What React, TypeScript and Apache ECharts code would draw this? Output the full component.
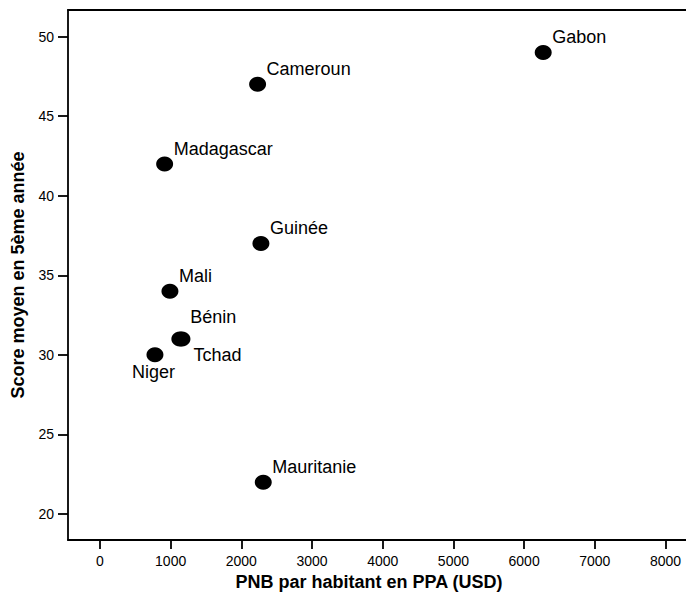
import React, { useEffect, useRef } from "react";
import * as echarts from "echarts";

const countries = ["Gabon", "Cameroun", "Madagascar", "Guinée", "Mali", "Bénin", "Tchad", "Niger", "Mauritanie"];
const gnp = [6270, 2230, 915, 2277, 990, 1130, 1160, 778, 2310];
const score = [49, 47, 42, 37, 34, 31, 31, 30, 22];
const xTicks = [0, 1000, 2000, 3000, 4000, 5000, 6000, 7000, 8000];
const yTicks = [20, 25, 30, 35, 40, 45, 50];

const labelPlacement: Record<string, { offset: number[]; align: string }> = {
  Bénin: { offset: [10.5, -22], align: "left" },
  Tchad: { offset: [11.5, 16.5], align: "left" },
  Niger: { offset: [-1.5, 17.5], align: "center" },
};

export default function App() {
  const ref = useRef<HTMLDivElement>(null);
  useEffect(() => {
    if (!ref.current) return;
    const chart = echarts.init(ref.current, null, { renderer: "svg" });
    const font = "'Liberation Sans', Arial, sans-serif";
    const data = countries.map((c, i) => {
      const p = labelPlacement[c] || { offset: [9, -15], align: "left" };
      return {
        name: c,
        value: [gnp[i], score[i]],
        label: {
          show: true,
          formatter: "{b}",
          position: "inside",
          align: p.align,
          verticalAlign: "middle",
          offset: p.offset,
          fontSize: 18,
          fontFamily: font,
          color: "#000",
          opacity: 1,
          textBorderWidth: 0,
        },
      };
    });
    const axisLine = { show: true, lineStyle: { color: "#000", width: 1.8 } };
    const plain = (v: number) => String(v);
    chart.setOption({
      animation: false,
      backgroundColor: "#fff",
      grid: { left: 68, top: 10, right: 0, bottom: 53, containLabel: false },
      xAxis: [
        {
          type: "value",
          min: -452,
          max: 8290,
          splitLine: { show: false },
          axisLine: { ...axisLine, onZero: false },
          axisTick: { show: true, length: 9, customValues: xTicks, lineStyle: { color: "#000", width: 1.8 } },
          axisLabel: { customValues: xTicks, formatter: plain, fontSize: 14, fontFamily: font, color: "#000", margin: 14 },
          name: "PNB par habitant en PPA (USD)",
          nameLocation: "middle",
          nameGap: 31,
          nameTextStyle: { fontSize: 18, fontWeight: "bold", fontFamily: font, color: "#000", padding: [0, 16, 0, 0] },
        },
        {
          type: "value",
          position: "top",
          min: -452,
          max: 8290,
          splitLine: { show: false },
          axisLine: { ...axisLine, onZero: false },
          axisTick: { show: false },
          axisLabel: { show: false },
        },
      ],
      yAxis: {
        type: "value",
        min: 18.36,
        max: 51.67,
        splitLine: { show: false },
        axisLine: { ...axisLine, onZero: false },
        axisTick: { show: true, length: 10, customValues: yTicks, lineStyle: { color: "#000", width: 1.8 } },
        axisLabel: { customValues: yTicks, formatter: plain, fontSize: 14, fontFamily: font, color: "#000", margin: 14 },
        name: "Score moyen en 5ème année",
        nameLocation: "middle",
        nameGap: 41,
        nameTextStyle: { fontSize: 18, fontWeight: "bold", fontFamily: font, color: "#000" },
      },
      series: [
        {
          type: "scatter",
          xAxisIndex: 0,
          symbol: "circle",
          symbolSize: [17, 15],
          itemStyle: { color: "#000", opacity: 1 },
          emphasis: { disabled: true },
          data,
        },
      ],
    });
    return () => chart.dispose();
  }, []);
  return (
    <div
      ref={ref}
      style={{ position: "absolute", left: 0, top: 0, width: 686, height: 596 }}
    />
  );
}
